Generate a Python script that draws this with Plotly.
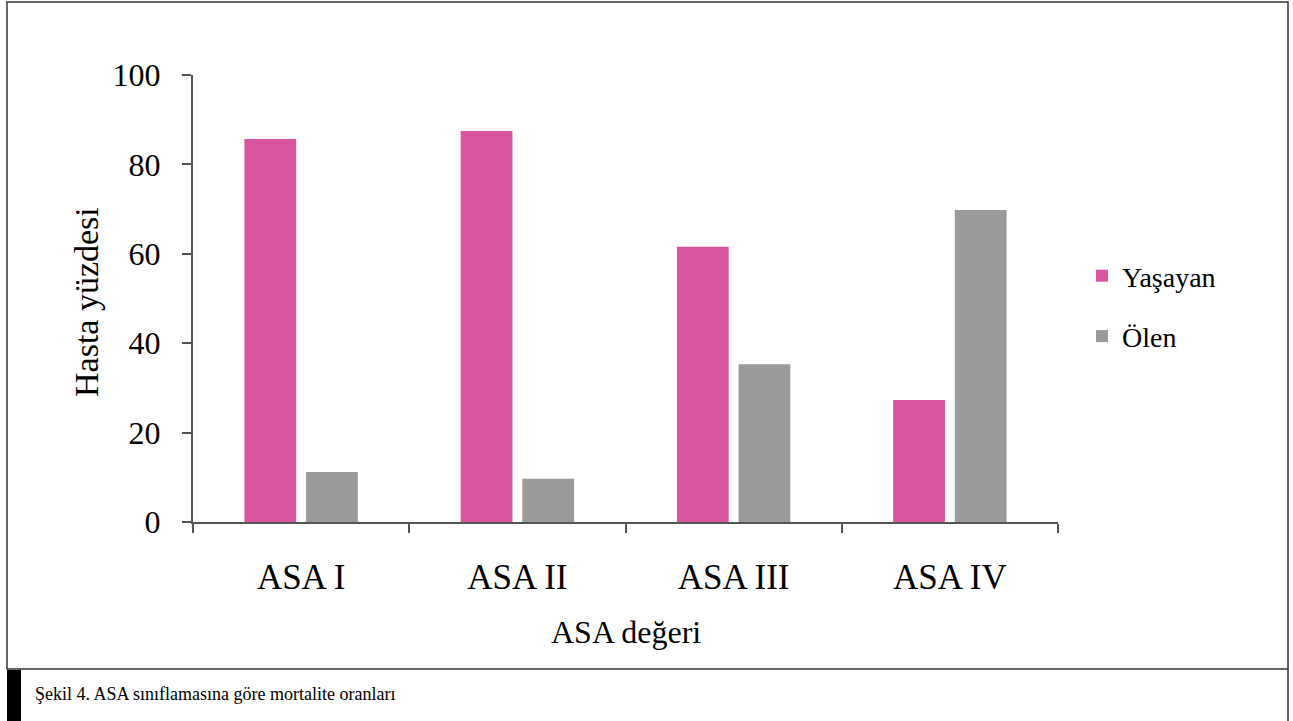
import plotly.graph_objects as go

# Patient percentages by ASA class
categories = ["ASA I", "ASA II", "ASA III", "ASA IV"]
survived = [85.7, 87.5, 61.6, 27.3]   # Yaşayan
died = [11.2, 9.7, 35.3, 69.8]        # Ölen
y_ticks = [0, 20, 40, 60, 80, 100]

W, H = 1293, 721
PINK = "#D9559F"
GREY = "#9A9A9A"
AXIS = "#555555"
FONT = "Liberation Serif"

# plot area in pixels
x0, x1 = 193, 1058
y_top, y_bot = 75, 522


def px(x):
    return x / W


def py(y):
    return 1 - y / H


fig = go.Figure()
fig.add_trace(go.Bar(x=categories, y=survived, name="Yaşayan",
                     marker=dict(color=PINK, line=dict(width=0)),
                     legendgroup="a"))
fig.add_trace(go.Bar(x=categories, y=died, name="Ölen",
                     marker=dict(color=GREY, line=dict(width=0)),
                     legendgroup="b"))

fig.update_layout(
    width=W, height=H,
    margin=dict(l=0, r=0, t=0, b=0, autoexpand=False),
    paper_bgcolor="white", plot_bgcolor="white",
    barmode="group", bargap=0.43, bargroupgap=0.16,
    font=dict(family=FONT, color="black"),
    showlegend=True,
    legend=dict(x=px(1082), y=py(251), xanchor="left", yanchor="top",
                font=dict(size=28, family=FONT), tracegroupgap=21,
                traceorder="grouped", bgcolor="rgba(0,0,0,0)"),
    xaxis=dict(domain=[px(x0), px(x1)], type="category",
               showline=True, linecolor=AXIS, linewidth=2,
               ticks="outside", tickson="boundaries", ticklen=9,
               tickcolor=AXIS, tickwidth=2,
               tickfont=dict(size=35, family=FONT), ticklabelstandoff=23,
               showgrid=False, zeroline=False),
    yaxis=dict(domain=[py(y_bot), py(y_top)], range=[0, 100],
               tickvals=y_ticks, showline=True, linecolor=AXIS, linewidth=2,
               ticks="outside", ticklen=9, tickcolor=AXIS, tickwidth=2,
               tickfont=dict(size=32, family=FONT), ticklabelstandoff=15,
               showgrid=False, zeroline=False),
)

# axis titles
fig.add_annotation(text="ASA değeri", x=px((x0 + x1) / 2), y=py(632),
                   xref="paper", yref="paper", showarrow=False,
                   font=dict(size=32, family=FONT), xanchor="center", yanchor="middle")
fig.add_annotation(text="Hasta yüzdesi", x=px(86), y=py(302),
                   xref="paper", yref="paper", showarrow=False, textangle=-90,
                   font=dict(size=34, family=FONT), xanchor="center", yanchor="middle")

# figure frame and caption strip
fig.add_shape(type="rect", xref="paper", yref="paper",
              x0=px(7), x1=px(1288), y0=py(669), y1=py(2),
              line=dict(color="#333333", width=1.5), fillcolor="rgba(0,0,0,0)")
fig.add_shape(type="line", xref="paper", yref="paper",
              x0=px(1288), x1=px(1288), y0=py(721), y1=py(669),
              line=dict(color="#333333", width=1.5))
fig.add_shape(type="rect", xref="paper", yref="paper",
              x0=px(7), x1=px(21), y0=py(721), y1=py(670),
              line=dict(width=0), fillcolor="black")
fig.add_annotation(text="Şekil 4. ASA sınıflamasına göre mortalite oranları",
                   x=px(33), y=py(694), xref="paper", yref="paper",
                   showarrow=False, xanchor="left", yanchor="middle",
                   font=dict(size=18, family=FONT, color="black"))

fig.write_html("out.html")
